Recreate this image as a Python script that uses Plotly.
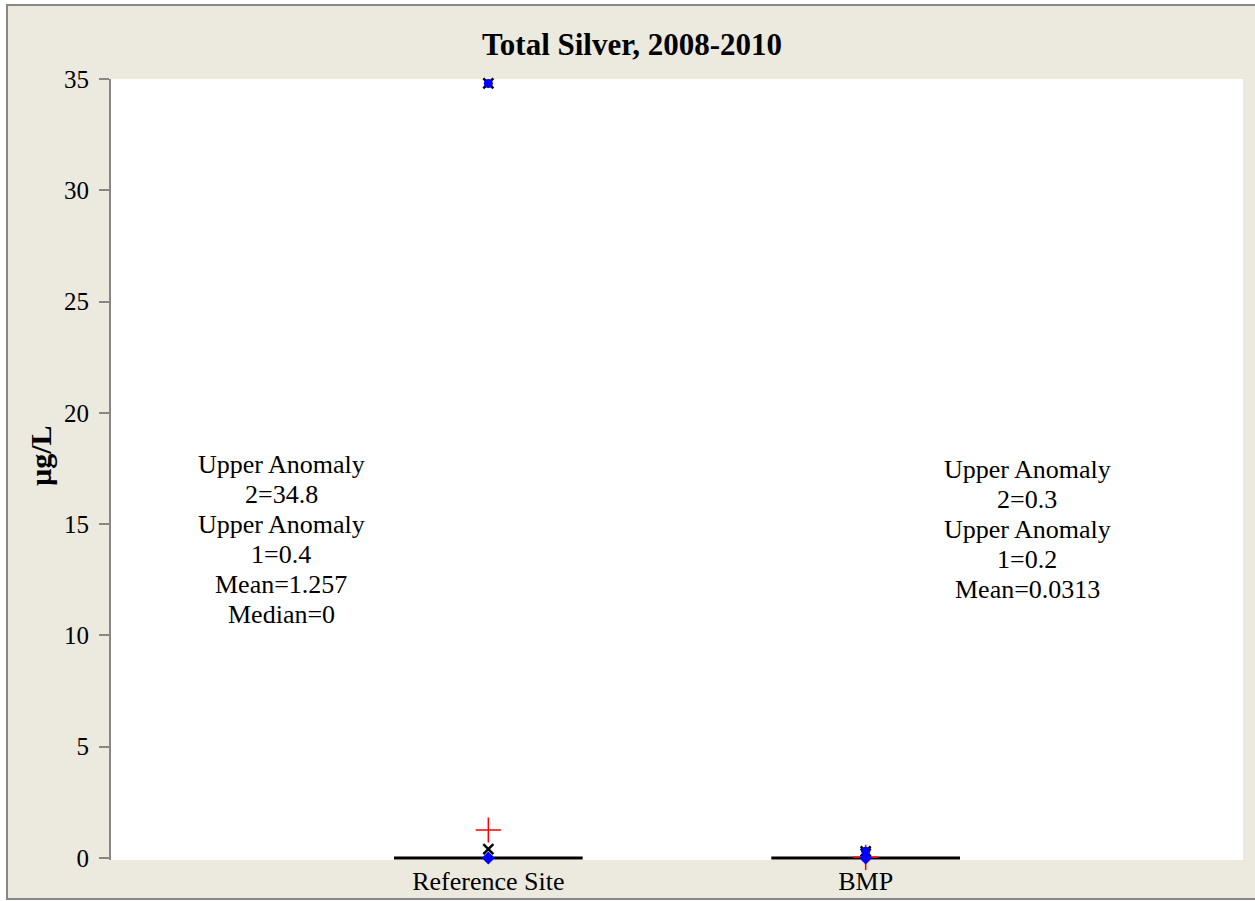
import plotly.graph_objects as go

# ---- data ----
categories = ["Reference Site", "BMP"]
q1 = [0, 0]
median = [0, 0]
q3 = [0, 0]
lower_fence = [0, 0]
upper_fence = [0, 0]
minimum = [0, 0]
maximum = [34.8, 0.3]
mean = [1.257, 0.0313]
upper_anomaly_1 = [0.4, 0.2]
upper_anomaly_2 = [34.8, 0.3]

ref_label_lines = ["Upper Anomaly", "2=34.8", "Upper Anomaly", "1=0.4", "Mean=1.257", "Median=0"]
bmp_label_lines = ["Upper Anomaly", "2=0.3", "Upper Anomaly", "1=0.2", "Mean=0.0313"]

FONT = "Liberation Serif, Times New Roman, serif"
BEIGE = "#ECE9DF"
GRAY = "#878787"

# plot-area geometry (pixels)
L, R, T, B = 111, 1243, 79, 860
PW, PH = R - L, B - T


def px_x(p):
    return (p - L) / PW


def px_y(p):
    return (B - p) / PH


fig = go.Figure()

fig.add_trace(go.Box(
    x=categories, q1=q1, median=median, q3=q3,
    lowerfence=lower_fence, upperfence=upper_fence,
    width=0.5, whiskerwidth=0,
    line=dict(color="black", width=3),
    fillcolor="rgba(0,0,0,0)",
    showlegend=False, hoverinfo="skip",
))

# upper anomalies (black x)
fig.add_trace(go.Scatter(
    x=categories + categories, y=upper_anomaly_2 + upper_anomaly_1,
    mode="markers",
    marker=dict(symbol="x-thin", size=10, line=dict(color="black", width=2.5)),
    showlegend=False, cliponaxis=False,
))
# mean (red plus)
fig.add_trace(go.Scatter(
    x=categories, y=mean, mode="markers",
    marker=dict(symbol="cross-thin", size=18, line=dict(color="red", width=1.5)),
    showlegend=False, cliponaxis=False,
))
# max (blue circle)
fig.add_trace(go.Scatter(
    x=categories, y=maximum, mode="markers",
    marker=dict(symbol="circle", size=9, color="blue"),
    showlegend=False, cliponaxis=False,
))
# min (blue diamond)
fig.add_trace(go.Scatter(
    x=categories, y=minimum, mode="markers",
    marker=dict(symbol="diamond", size=10, color="blue"),
    showlegend=False, cliponaxis=False,
))

annotations = []
for lines, xp, yp in [(ref_label_lines, px_x(281), px_y(464)), (bmp_label_lines, px_x(1027), px_y(469))]:
    for i, t in enumerate(lines):
        annotations.append(dict(
            text=t, x=xp, y=yp, xref="paper", yref="paper",
            xanchor="center", yanchor="middle", yshift=-30 * i,
            showarrow=False, font=dict(family=FONT, size=26, color="black"),
        ))

# y-axis title
annotations.append(dict(
    text="<b>µg/L</b>", x=px_x(40), y=px_y(456), xref="paper", yref="paper",
    xanchor="center", yanchor="middle", textangle=-90, showarrow=False,
    font=dict(family=FONT, size=30, color="black"),
))

fig.update_layout(
    width=1255, height=901,
    margin=dict(l=L, r=1255 - R, t=T, b=901 - B, autoexpand=False),
    paper_bgcolor="white",
    plot_bgcolor="white",
    font=dict(family=FONT, color="black"),
    title=dict(
        text="<b>Total Silver, 2008-2010</b>",
        font=dict(family=FONT, size=31, color="black"),
        x=(632 / 1255), xanchor="center",
        y=1 - 44 / 901, yanchor="middle", yref="container",
    ),
    xaxis=dict(
        type="category", range=[-1, 2], automargin=False,
        showline=False, showgrid=False, zeroline=False, ticks="",
        ticklabelstandoff=3,
        tickfont=dict(family=FONT, size=26, color="black"),
    ),
    yaxis=dict(
        range=[-0.09, 35], tickvals=[0, 5, 10, 15, 20, 25, 30, 35],
        automargin=False,
        showline=True, linecolor=GRAY, linewidth=2,
        ticks="outside", ticklen=10, tickwidth=2, tickcolor=GRAY,
        ticklabelstandoff=5,
        showgrid=False, zeroline=False,
        tickfont=dict(family=FONT, size=25, color="black"),
    ),
    shapes=[
        dict(type="rect", xref="paper", yref="paper", layer="below",
             x0=px_x(7), x1=px_x(1262), y0=px_y(899), y1=px_y(5),
             fillcolor=BEIGE, line=dict(color=GRAY, width=2)),
        dict(type="rect", xref="paper", yref="paper", layer="below",
             x0=0, x1=1, y0=0, y1=1, fillcolor="white", line=dict(width=0)),
    ],
    annotations=annotations,
)

fig.write_html("out.html", config={"displayModeBar": False},
               post_script="document.body.style.margin='0';")
